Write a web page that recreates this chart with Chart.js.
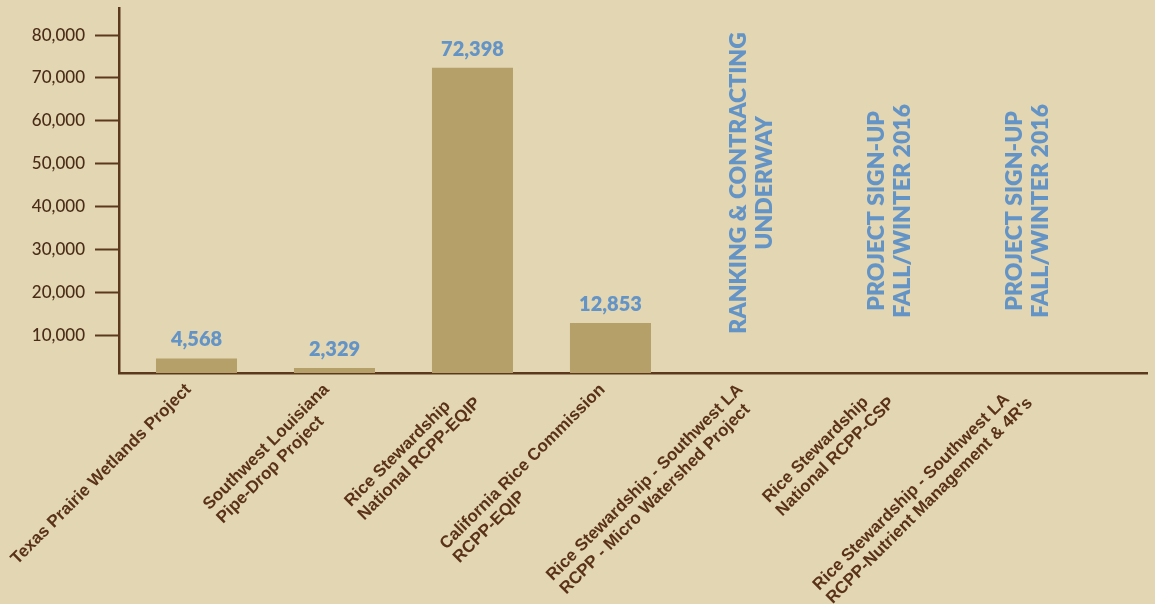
<!DOCTYPE html>
<html>
<head>
<meta charset="utf-8">
<script src="https://cdn.jsdelivr.net/npm/chart.js@4.4.1/dist/chart.umd.min.js"></script>
<style>
  html, body { margin: 0; padding: 0; background: #e2d6b3; overflow: hidden; }
  #wrap { width: 1155px; height: 604px; position: relative; }
</style>
</head>
<body>
<div id="wrap"><canvas id="c"></canvas></div>
<script>
// ---------- data ----------
const categories = [
  ['Texas Prairie Wetlands Project'],
  ['Southwest Louisiana', 'Pipe-Drop Project'],
  ['Rice Stewardship', 'National RCPP-EQIP'],
  ['California Rice Commission', 'RCPP-EQIP'],
  ['Rice Stewardship - Southwest LA', 'RCPP - Micro Watershed Project'],
  ['Rice Stewardship', 'National RCPP-CSP'],
  ['Rice Stewardship - Southwest LA', "RCPP-Nutrient Management & 4R's"]
];
const acres = [4568, 2329, 72398, 12853, null, null, null];
const statusNotes = [
  null, null, null, null,
  ['RANKING & CONTRACTING', 'UNDERWAY'],
  ['PROJECT SIGN-UP', 'FALL/WINTER 2016'],
  ['PROJECT SIGN-UP', 'FALL/WINTER 2016']
];
const yTickValues = [10000, 20000, 30000, 40000, 50000, 60000, 70000, 80000];

// ---------- styles ----------
const BROWN = '#5c381c';
const LABEL_BROWN = '#5a3218';
const BAR = '#b5a069';
const BLUE = '#6494c6';

const valueLabels = {
  id: 'valueLabels',
  afterDatasetsDraw(chart) {
    const ctx = chart.ctx;
    const meta = chart.getDatasetMeta(0);
    ctx.save();
    ctx.font = '800 20px Lato, "Open Sans", sans-serif';
    ctx.fillStyle = BLUE;
    ctx.textAlign = 'center';
    ctx.textBaseline = 'alphabetic';
    meta.data.forEach((bar, i) => {
      if (acres[i] == null) return;
      ctx.fillText(acres[i].toLocaleString('en-US'), bar.x, bar.y - 12);
    });
    ctx.restore();
  }
};

const categoryLabels = {
  id: 'categoryLabels',
  afterDraw(chart, args, opts) {
    const ctx = chart.ctx;
    const xs = chart.scales.x;
    ctx.save();
    ctx.font = 'bold 17px "Liberation Sans", Arial, sans-serif';
    ctx.fillStyle = LABEL_BROWN;
    ctx.textAlign = 'left';
    ctx.textBaseline = 'top';
    categories.forEach((lines, i) => {
      const px = xs.getPixelForValue(i) + opts.dx;
      const py = chart.chartArea.bottom + opts.dy;
      const W = Math.max(...lines.map(l => ctx.measureText(l).width));
      ctx.save();
      ctx.translate(px, py);
      ctx.rotate(-opts.angle * Math.PI / 180);
      lines.forEach((l, j) => ctx.fillText(l, -W, j * opts.lineHeight));
      ctx.restore();
    });
    ctx.restore();
  }
};

const notes = {
  id: 'notes',
  afterDraw(chart, args, opts) {
    const ctx = chart.ctx;
    const xs = chart.scales.x, ys = chart.scales.y;
    ctx.save();
    ctx.font = '800 23px Lato, "Open Sans", sans-serif';
    ctx.fillStyle = BLUE;
    ctx.textAlign = 'center';
    ctx.textBaseline = 'middle';
    statusNotes.forEach((lines, i) => {
      if (!lines) return;
      const cx = xs.getPixelForValue(i) + 3;
      const cy = ys.getPixelForValue(opts.levels[i]);
      ctx.save();
      ctx.translate(cx, cy);
      ctx.rotate(-Math.PI / 2);
      lines.forEach((l, j) => ctx.fillText(l, 0, (j - (lines.length - 1) / 2) * 26));
      ctx.restore();
    });
    ctx.restore();
  }
};

new Chart(document.getElementById('c'), {
  type: 'bar',
  data: {
    datasets: [{
      data: acres.map((v, i) => ({ x: i, y: v })),
      backgroundColor: BAR,
      borderWidth: 0,
      categoryPercentage: 1,
      barPercentage: 0.587
    }]
  },
  options: {
    responsive: true,
    maintainAspectRatio: false,
    animation: false,
    layout: { padding: { top: 8, right: 8, left: 0, bottom: 0 } },
    plugins: {
      legend: { display: false },
      tooltip: { enabled: false },
      categoryLabels: { dx: -14, dy: 8, lineHeight: 19, angle: 45 },
      notes: { levels: [0, 0, 0, 0, 45500, 39000, 39000] }
    },
    scales: {
      x: {
        type: 'linear',
        min: -0.5616,
        max: 6.888,
        offset: false,
        afterBuildTicks: s => { s.ticks = categories.map((c, i) => ({ value: i })); },
        ticks: { display: false },
        grid: { display: false },
        border: { display: true, color: BROWN, width: 2.5 },
        afterFit: s => { s.height = 231; s.paddingLeft = 0; s.paddingRight = 0; }
      },
      y: {
        min: 1167,
        max: 86333,
        afterBuildTicks: s => { s.ticks = yTickValues.map(v => ({ value: v })); },
        ticks: {
          callback: v => Number(v).toLocaleString('en-US'),
          font: { family: 'Lato, "Open Sans", sans-serif', size: 17, weight: 500 },
          color: '#4a2c17',
          padding: 10
        },
        grid: { drawOnChartArea: false, drawTicks: true, tickLength: 24, tickWidth: 2, color: BROWN },
        border: { display: true, color: BROWN, width: 2.5 },
        afterFit: s => { s.width = 119; s.paddingTop = 0; s.paddingBottom = 0; }
      }
    }
  },
  plugins: [valueLabels, categoryLabels, notes]
});
</script>
</body>
</html>
